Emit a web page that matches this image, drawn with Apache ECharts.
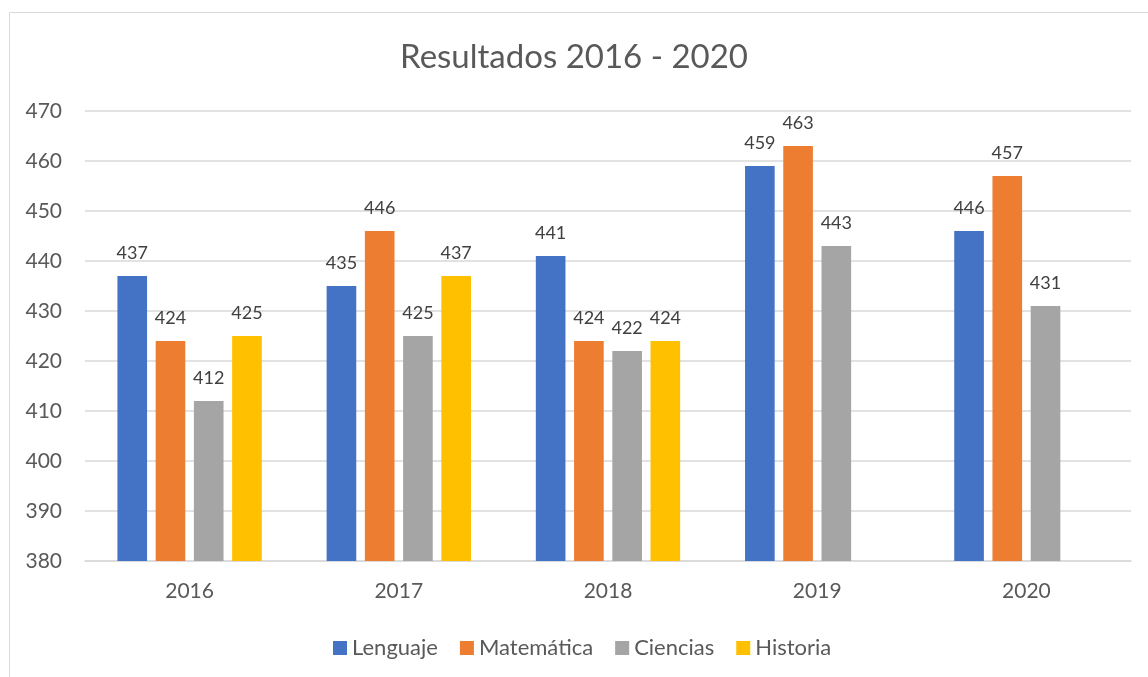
<!DOCTYPE html>
<html>
<head>
<meta charset="utf-8">
<script src="https://cdn.jsdelivr.net/npm/echarts@6/dist/echarts.min.js"></script>
<style>html,body{margin:0;padding:0;background:#fff}#c{width:1148px;height:677px}</style>
</head>
<body>
<div id="c"></div>
<script>
const categories = ['2016', '2017', '2018', '2019', '2020'];
const lenguaje = [437, 435, 441, 459, 446];
const matematica = [424, 446, 424, 463, 457];
const ciencias = [412, 425, 422, 443, 431];
const historia = [425, 437, 424, null, null];
const seriesNames = ['Lenguaje', 'Matemática', 'Ciencias', 'Historia'];
const colors = ['#4472C4', '#ED7D31', '#A5A5A5', '#FFC000'];

const FONT = 'Lato, "Open Sans", sans-serif';
const chart = echarts.init(document.getElementById('c'), null, {renderer: 'canvas'});
const values = [lenguaje, matematica, ciencias, historia];
chart.setOption({
  animation: false,
  color: colors,
  textStyle: {fontFamily: FONT},
  title: {
    text: 'Resultados 2016 - 2020',
    left: 'center',
    top: 36,
    textStyle: {fontFamily: FONT, fontSize: 33, fontWeight: 'normal', color: '#595959'}
  },
  graphic: [{
    type: 'rect',
    shape: {x: 9.5, y: 12.5, width: 1300, height: 800},
    style: {fill: 'none', stroke: '#d9d9d9', lineWidth: 1},
    silent: true,
    z: -1
  }],
  legend: {
    left: 328,
    top: 632,
    itemWidth: 14,
    itemHeight: 14,
    itemGap: 22,
    icon: 'rect',
    textStyle: {fontFamily: FONT, fontSize: 22, color: '#595959'},
    data: seriesNames
  },
  grid: {left: 85, right: 17, top: 111, bottom: 116, containLabel: false},
  xAxis: {
    type: 'category',
    data: categories,
    axisLine: {lineStyle: {color: '#d9d9d9', width: 1.5}},
    axisTick: {show: false},
    axisLabel: {fontFamily: FONT, fontSize: 21, color: '#595959', margin: 20}
  },
  yAxis: {
    type: 'value',
    min: 380,
    max: 470,
    interval: 10,
    axisLine: {show: false},
    axisTick: {show: false},
    splitLine: {lineStyle: {color: '#d9d9d9', width: 1.5}},
    axisLabel: {fontFamily: FONT, fontSize: 21, color: '#595959', margin: 23}
  },
  series: seriesNames.map((n, i) => ({
    name: n,
    type: 'bar',
    data: values[i],
    barGap: '29%',
    barCategoryGap: '31%',
    label: {
      show: true,
      position: 'top',
      distance: 14,
      fontFamily: FONT,
      fontSize: 18,
      color: '#404040'
    }
  }))
});
</script>
</body>
</html>
